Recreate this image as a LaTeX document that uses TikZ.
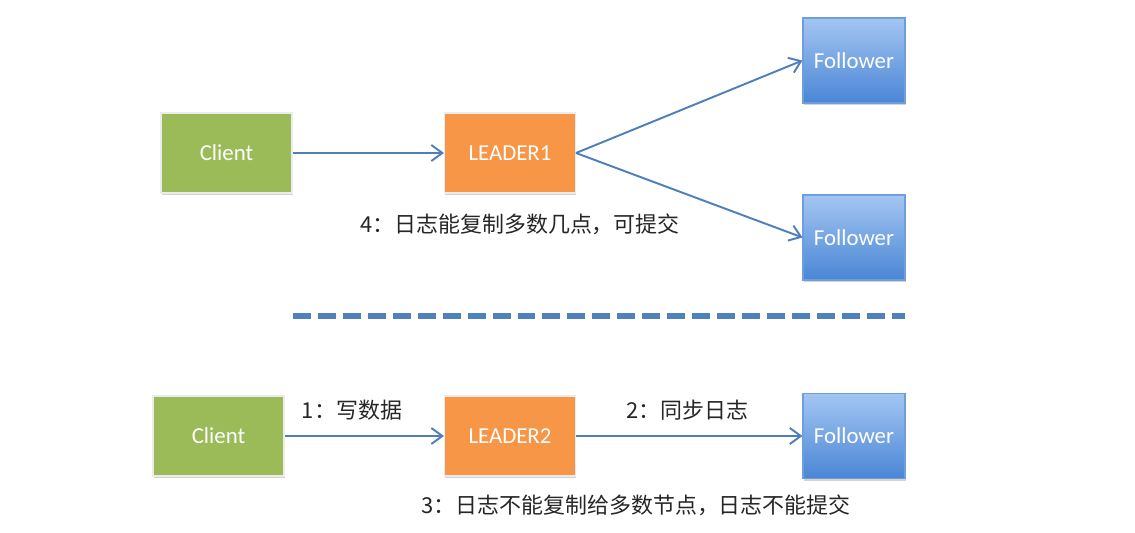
\documentclass[tikz,border=0pt]{standalone}
\usepackage{fontspec}
\setmainfont{Carlito}
\newfontfamily\cjkfont{Noto Sans CJK SC}
\usetikzlibrary{arrows.meta,shadows}
\definecolor{clientgreen}{HTML}{9BBB59}
\definecolor{leaderorange}{HTML}{F79646}
\definecolor{followertop}{HTML}{A3C6F2}
\definecolor{followerbot}{HTML}{4A86D6}
\definecolor{linkblue}{HTML}{4F7FBA}
\definecolor{sepblue}{HTML}{4F81BD}

\begin{document}
\begin{tikzpicture}[x = 0.02cm, y = -0.02cm,
    box/.style = {minimum width=2.62cm, minimum height=1.6cm, inner sep=0pt,
      text=white, font=\fontsize{13}{15}\selectfont, draw=white!85!gray, line width=0.6pt,
      drop shadow={shadow xshift=0.4pt, shadow yshift=-1.4pt, opacity=0.35}},
    clientbox/.style = {box, fill=clientgreen},
    leaderbox/.style = {box, fill=leaderorange},
    followerbox/.style = {box, minimum width=2.04cm, minimum height=1.7cm,
      top color=followertop, bottom color=followerbot, draw=followerbot!80!white},
    link/.style = {draw=linkblue, line width=1.1pt, -{Straight Barb[length=2.2mm, width=3.2mm]}},
    note/.style = {font=\cjkfont\fontsize{12.5}{14}\selectfont, text=black!85},
    sepline/.style = {draw=sepblue, line width=3.4pt, dash pattern=on 10.2pt off 4pt}]
        \useasboundingbox (0,0) rectangle (1135,533);
        % upper case
        \node[clientbox] (client1) at (226.5,153) {Client};
        \node[leaderbox] (leader1) at (510,153) {LEADER1};
        \node[followerbox] (follower1) at (854,60.5) {Follower};
        \node[followerbox] (follower2) at (854,237.5) {Follower};
        \draw[link] (client1) -- (leader1);
        \draw[link] (leader1.east) -- (follower1.west);
        \draw[link] (leader1.east) -- (follower2.west);
        \node[note] (commit1) at (520,224) {4：日志能复制多数几点，可提交};
        % separator
        \coordinate (sepa) at (293,316);
        \coordinate (sepb) at (905,316);
        \draw[sepline] (sepa) -- (sepb);
        % lower case
        \node[clientbox] (client2) at (218.5,436) {Client};
        \node[leaderbox] (leader2) at (510,436) {LEADER2};
        \node[followerbox] (follower3) at (854,436) {Follower};
        \draw[link] (client2) -- (leader2);
        \draw[link] (leader2) -- (follower3);
        \node[note] (write2) at (352,410) {1：写数据};
        \node[note] (sync2) at (687,410) {2：同步日志};
        \node[note] (commit2) at (636,505) {3：日志不能复制给多数节点，日志不能提交};
      \end{tikzpicture}
\end{document}
